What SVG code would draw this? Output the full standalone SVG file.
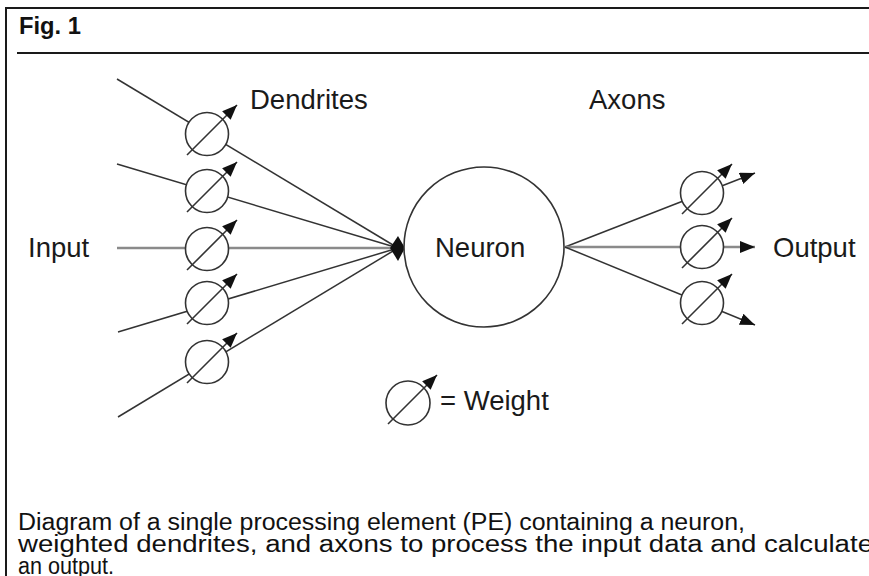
<svg xmlns="http://www.w3.org/2000/svg" width="869" height="576" viewBox="0 0 869 576">
<style>
.frame{stroke:#1a1a1a;stroke-width:2;fill:none}
.ln{stroke:#333;stroke-width:1.5;fill:none}
.gl{stroke:#8a8a8a;stroke-width:2.5;fill:none}
.wc{stroke:#333;stroke-width:1.6;fill:#fff}
.wa{stroke:#333;stroke-width:1.6;fill:none;marker-end:url(#ah)}
.oa{marker-end:url(#ah)}
.lbl{font-family:"Liberation Sans",Arial,sans-serif;font-size:27.5px;fill:#1a1a1a}
.cap{font-family:"Liberation Sans",Arial,sans-serif;font-size:23px;fill:#111}
.fig{font-family:"Liberation Sans",Arial,sans-serif;font-size:24px;font-weight:bold;fill:#111}
</style>
<defs>
<marker id="ah" markerUnits="userSpaceOnUse" markerWidth="16" markerHeight="13" refX="15" refY="6" orient="auto">
<path d="M0,0 L15,6 L0,12 z" fill="#111"/>
</marker>
</defs>
<rect width="869" height="576" fill="#fff"/>
<g id="frame">
<path class="frame" d="M6,576 V8 H869"/>
<path class="frame" d="M17,53 H869"/>
<text class="fig" x="19" y="34" textLength="62" lengthAdjust="spacingAndGlyphs">Fig. 1</text>
</g>
<g id="connectors">
<line class="ln" x1="117" y1="79" x2="398" y2="248"/>
<line class="ln" x1="117" y1="164" x2="398" y2="248"/>
<line class="gl" x1="117" y1="248" x2="398" y2="248"/>
<line class="ln" x1="118" y1="332" x2="398" y2="248"/>
<line class="ln" x1="118" y1="417" x2="398" y2="248"/>
<polygon points="390,248 398,236 405,248 398,261" fill="#111"/>
<line class="ln oa" x1="565" y1="247" x2="755" y2="173"/>
<line class="gl oa" x1="565" y1="247" x2="755" y2="247"/>
<line class="ln oa" x1="565" y1="247" x2="755" y2="325"/>
</g>
<g id="neuron">
<circle class="wc" cx="484" cy="247" r="80"/>
<text class="lbl" x="435" y="257">Neuron</text>
</g>
<g id="w-in-1" transform="translate(207,134)">
<circle class="wc" r="21.5"/><line class="wa" x1="-20" y1="21" x2="30" y2="-29"/>
</g>
<g id="w-in-2" transform="translate(207,191)">
<circle class="wc" r="21.5"/><line class="wa" x1="-20" y1="21" x2="30" y2="-29"/>
</g>
<g id="w-in-3" transform="translate(207,249)">
<circle class="wc" r="21.5"/><line class="wa" x1="-20" y1="21" x2="30" y2="-29"/>
</g>
<g id="w-in-4" transform="translate(207,303)">
<circle class="wc" r="21.5"/><line class="wa" x1="-20" y1="21" x2="30" y2="-29"/>
</g>
<g id="w-in-5" transform="translate(207,362)">
<circle class="wc" r="21.5"/><line class="wa" x1="-20" y1="21" x2="30" y2="-29"/>
</g>
<g id="w-out-1" transform="translate(702,193)">
<circle class="wc" r="21.5"/><line class="wa" x1="-20" y1="21" x2="30" y2="-29"/>
</g>
<g id="w-out-2" transform="translate(702,247)">
<circle class="wc" r="21.5"/><line class="wa" x1="-20" y1="21" x2="30" y2="-29"/>
</g>
<g id="w-out-3" transform="translate(702,303)">
<circle class="wc" r="21.5"/><line class="wa" x1="-20" y1="21" x2="30" y2="-29"/>
</g>
<g id="labels">
<text class="lbl" x="250" y="109">Dendrites</text>
<text class="lbl" x="589" y="109">Axons</text>
<text class="lbl" x="28" y="257">Input</text>
<text class="lbl" x="773" y="257">Output</text>
</g>
<g id="legend">
<g transform="translate(408,403)">
<circle class="wc" r="22"/><line class="wa" x1="-20" y1="21" x2="29" y2="-28"/>
</g>
<text class="lbl" x="440" y="410">= Weight</text>
</g>
<g id="caption">
<text class="cap" x="18" y="530" textLength="727" lengthAdjust="spacingAndGlyphs">Diagram of a single processing element (PE) containing a neuron,</text>
<text class="cap" x="18" y="552" textLength="855" lengthAdjust="spacingAndGlyphs">weighted dendrites, and axons to process the input data and calculate</text>
<text class="cap" x="18" y="574" textLength="96" lengthAdjust="spacingAndGlyphs">an output.</text>
</g>
</svg>
